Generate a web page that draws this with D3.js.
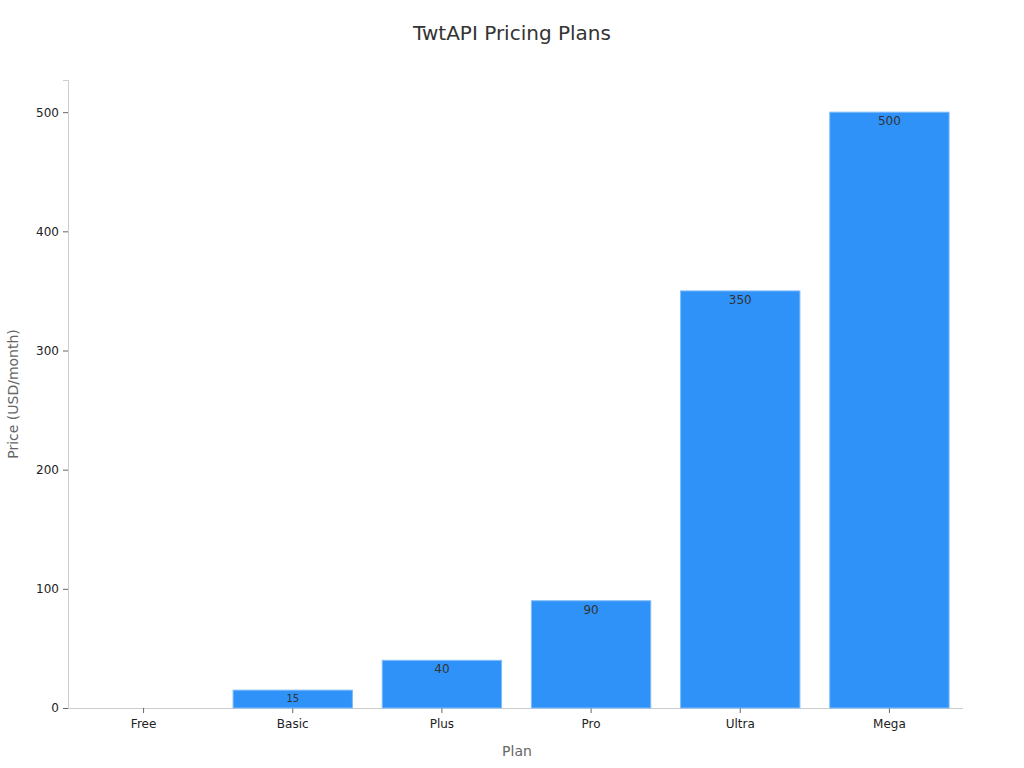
<!DOCTYPE html>
<html><head><meta charset="utf-8">
<script src="https://cdn.jsdelivr.net/npm/d3@7"></script>
<style>body{margin:0;background:#fff;font-family:"DejaVu Sans",sans-serif;}</style>
</head><body>
<svg id="c" width="1024" height="768"></svg>
<script>
const categories = ["Free","Basic","Plus","Pro","Ultra","Mega"];
const prices = [0,15,40,90,350,500];
const yTicks = [0,100,200,300,400,500];

const svg = d3.select("#c");
const m = {l:68, r:963, t:80, b:708};
const x = d3.scaleBand().domain(categories).range([m.l+1,m.r+1]).paddingInner(0.2).paddingOuter(0.1);
const y = d3.scaleLinear().domain([0,527]).range([m.b,m.t]);

svg.append("text").attr("x",512).attr("y",40).attr("text-anchor","middle")
  .attr("font-size",20).attr("fill","#333").text("TwtAPI Pricing Plans");

const ya = svg.append("g").attr("transform",`translate(${m.l},0)`)
  .call(d3.axisLeft(y).tickValues(yTicks).tickSize(5).tickPadding(4));
ya.select(".domain").attr("stroke","#ccc");
ya.selectAll(".tick line").attr("stroke","#666");
ya.selectAll(".tick text").attr("font-size",12).attr("fill","#222").attr("font-family","DejaVu Sans");

const xa = svg.append("g").attr("transform",`translate(0,${m.b})`)
  .call(d3.axisBottom(x).tickSize(5).tickPadding(6).tickSizeOuter(0));
xa.select(".domain").attr("stroke","#ccc").attr("d",`M${m.l},0.5H${m.r}`);
xa.selectAll(".tick line").attr("stroke","#666");
xa.selectAll(".tick text").attr("font-size",12).attr("fill","#222").attr("font-family","DejaVu Sans");

svg.append("g").selectAll("rect").data(categories).join("rect")
  .attr("x",d=>x(d)).attr("width",x.bandwidth())
  .attr("y",(d,i)=>y(prices[i])).attr("height",(d,i)=>y(0)-y(prices[i]))
  .attr("fill","#2f92f8").attr("stroke","#7fbcf9").attr("stroke-width",1);

svg.append("g").selectAll("text").data(categories).join("text")
  .filter((d,i)=>prices[i]>0)
  .attr("x",d=>x(d)+x.bandwidth()/2)
  .attr("y",(d)=>{const i=categories.indexOf(d);return y(prices[i]) + (prices[i]<20?12:13);})
  .attr("text-anchor","middle")
  .attr("font-size",d=>prices[categories.indexOf(d)]<20?10:12)
  .attr("fill","#333")
  .text(d=>prices[categories.indexOf(d)]);

svg.append("text").attr("transform","translate(18,394) rotate(-90)").attr("text-anchor","middle")
  .attr("font-size",14).attr("fill","#666").text("Price (USD/month)");
svg.append("text").attr("x",517).attr("y",756).attr("text-anchor","middle")
  .attr("font-size",14).attr("fill","#666").text("Plan");
</script>
</body></html>
